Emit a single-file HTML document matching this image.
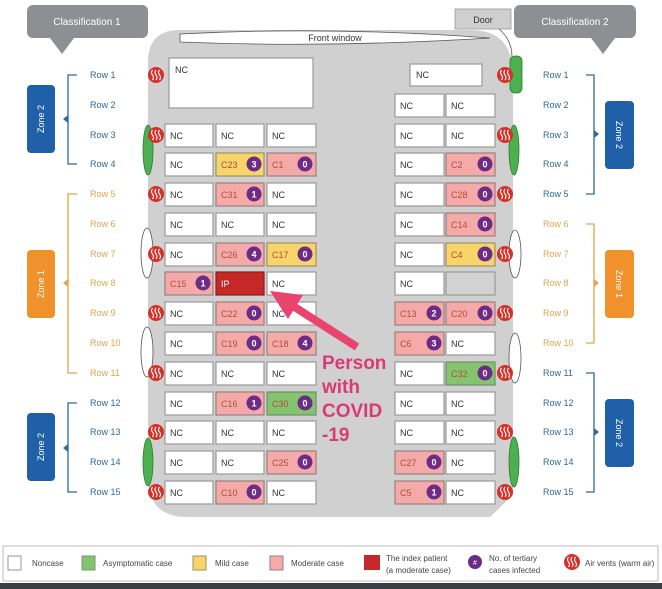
<!DOCTYPE html>
<html><head><meta charset="utf-8"><style>
html,body{margin:0;padding:0;background:#fff;}
svg{display:block;font-family:"Liberation Sans",sans-serif;}
.nc{fill:#fff;stroke:#9a9a9a;stroke-width:1.2}
.mo{fill:#f4aaa8;stroke:#9a8080;stroke-width:1.2}
.mi{fill:#f8d56a;stroke:#a09060;stroke-width:1.2}
.as{fill:#84c46e;stroke:#70906a;stroke-width:1.2}
.t{font-size:9px;fill:#333}
.ct{font-size:9px;fill:#b84a3a}
.b{fill:#6c2b86}
.bn{font-size:9px;fill:#fff;text-anchor:middle;font-weight:bold}
.rb{font-size:9px;fill:#2d6b98}
.ro{font-size:9px;fill:#dfa64c}
.lg{font-size:8px;fill:#444}
</style></head><body>
<svg width="662" height="589" viewBox="0 0 662 589">
<defs>
<g id="v"><circle r="8" fill="#d63027"/><path d="M-3.5,-5 q-2,2.5 0,5 q2,2.5 0,5 M0,-5 q-2,2.5 0,5 q2,2.5 0,5 M3.5,-5 q-2,2.5 0,5 q2,2.5 0,5" stroke="#fff" stroke-width="1.1" fill="none"/></g>
</defs>
<rect x="27" y="5" width="121" height="33" rx="6" fill="#8e8f92"/>
<polygon points="50,38 74,38 62,54" fill="#8e8f92"/>
<text x="87" y="25" font-size="10" fill="#fff" text-anchor="middle">Classification 1</text>
<rect x="514" y="5" width="122" height="33" rx="6" fill="#8e8f92"/>
<polygon points="591,38 615,38 603,54" fill="#8e8f92"/>
<text x="575" y="25" font-size="10" fill="#fff" text-anchor="middle">Classification 2</text>
<path d="M148,478 L148,62 Q148,30 180,30 L470,30 Q513,30 513,75 L513,495 L490,517 L188,517 Q148,517 148,478 Z" fill="#d0d0d1"/>
<path d="M180,34 Q330,26 490,38 Q330,48 180,42 Z" fill="#fff" stroke="#555" stroke-width="0.8"/>
<text x="335" y="41" font-size="9" fill="#333" text-anchor="middle">Front window</text>
<rect x="455" y="9" width="56" height="20" fill="#cfcfd0" stroke="#999" stroke-width="0.8"/>
<text x="483" y="23" font-size="9" fill="#333" text-anchor="middle">Door</text>
<path d="M499,29 Q512,40 512,57" stroke="#555" stroke-width="0.8" fill="none"/>
<rect x="510" y="56" width="12" height="37" rx="5" fill="#4caf50" stroke="#2e7d32" stroke-width="0.8"/>
<ellipse cx="148" cy="150" rx="5" ry="25" fill="#4caf50" stroke="#2e7d32" stroke-width="0.8"/>
<ellipse cx="148" cy="462" rx="5" ry="24" fill="#4caf50" stroke="#2e7d32" stroke-width="0.8"/>
<ellipse cx="514" cy="150" rx="5" ry="25" fill="#4caf50" stroke="#2e7d32" stroke-width="0.8"/>
<ellipse cx="514" cy="462" rx="5" ry="25" fill="#4caf50" stroke="#2e7d32" stroke-width="0.8"/>
<ellipse cx="147" cy="253" rx="6" ry="25" fill="#fff" stroke="#555" stroke-width="0.8"/>
<ellipse cx="147" cy="352" rx="6" ry="25" fill="#fff" stroke="#555" stroke-width="0.8"/>
<ellipse cx="515" cy="254" rx="6" ry="24" fill="#fff" stroke="#555" stroke-width="0.8"/>
<ellipse cx="515" cy="358" rx="6" ry="25" fill="#fff" stroke="#555" stroke-width="0.8"/>

<rect class="nc" x="169" y="58" width="144" height="50"/><text class="t" x="175" y="73">NC</text>
<rect class="nc" x="410" y="64" width="72" height="22"/><text class="t" x="416" y="78">NC</text>
<use href="#v" x="156" y="75"/><use href="#v" x="505" y="75"/>
<g transform="translate(0,105)">
<rect class="nc" x="395" y="-11" width="49" height="23"/><text class="t" x="400" y="4">NC</text>
<rect class="nc" x="446" y="-11" width="49" height="23"/><text class="t" x="451" y="4">NC</text>
</g>
<g transform="translate(0,135)">
<rect class="nc" x="165" y="-11" width="48" height="23"/><text class="t" x="170" y="4">NC</text>
<rect class="nc" x="216" y="-11" width="48" height="23"/><text class="t" x="221" y="4">NC</text>
<rect class="nc" x="267" y="-11" width="49" height="23"/><text class="t" x="272" y="4">NC</text>
<rect class="nc" x="395" y="-11" width="49" height="23"/><text class="t" x="400" y="4">NC</text>
<rect class="nc" x="446" y="-11" width="49" height="23"/><text class="t" x="451" y="4">NC</text>
<use href="#v" x="156" y="0"/><use href="#v" x="505" y="0"/>
</g>
<g transform="translate(0,164)">
<rect class="nc" x="165" y="-11" width="48" height="23"/><text class="t" x="170" y="4">NC</text>
<rect class="mi" x="216" y="-11" width="48" height="23"/><text class="ct" x="221" y="4">C23</text><circle class="b" cx="254" cy="0" r="7.5"/><text class="bn" x="254" y="3.5">3</text>
<rect class="mo" x="267" y="-11" width="49" height="23"/><text class="ct" x="272" y="4">C1</text><circle class="b" cx="305" cy="0" r="7.5"/><text class="bn" x="305" y="3.5">0</text>
<rect class="nc" x="395" y="-11" width="49" height="23"/><text class="t" x="400" y="4">NC</text>
<rect class="mo" x="446" y="-11" width="49" height="23"/><text class="ct" x="451" y="4">C2</text><circle class="b" cx="485" cy="0" r="7.5"/><text class="bn" x="485" y="3.5">0</text>
</g>
<g transform="translate(0,194)">
<rect class="nc" x="165" y="-11" width="48" height="23"/><text class="t" x="170" y="4">NC</text>
<rect class="mo" x="216" y="-11" width="48" height="23"/><text class="ct" x="221" y="4">C31</text><circle class="b" cx="254" cy="0" r="7.5"/><text class="bn" x="254" y="3.5">1</text>
<rect class="nc" x="267" y="-11" width="49" height="23"/><text class="t" x="272" y="4">NC</text>
<rect class="nc" x="395" y="-11" width="49" height="23"/><text class="t" x="400" y="4">NC</text>
<rect class="mo" x="446" y="-11" width="49" height="23"/><text class="ct" x="451" y="4">C28</text><circle class="b" cx="485" cy="0" r="7.5"/><text class="bn" x="485" y="3.5">0</text>
<use href="#v" x="156" y="0"/><use href="#v" x="505" y="0"/>
</g>
<g transform="translate(0,224)">
<rect class="nc" x="165" y="-11" width="48" height="23"/><text class="t" x="170" y="4">NC</text>
<rect class="nc" x="216" y="-11" width="48" height="23"/><text class="t" x="221" y="4">NC</text>
<rect class="nc" x="267" y="-11" width="49" height="23"/><text class="t" x="272" y="4">NC</text>
<rect class="nc" x="395" y="-11" width="49" height="23"/><text class="t" x="400" y="4">NC</text>
<rect class="mo" x="446" y="-11" width="49" height="23"/><text class="ct" x="451" y="4">C14</text><circle class="b" cx="485" cy="0" r="7.5"/><text class="bn" x="485" y="3.5">0</text>
</g>
<g transform="translate(0,254)">
<rect class="nc" x="165" y="-11" width="48" height="23"/><text class="t" x="170" y="4">NC</text>
<rect class="mo" x="216" y="-11" width="48" height="23"/><text class="ct" x="221" y="4">C26</text><circle class="b" cx="254" cy="0" r="7.5"/><text class="bn" x="254" y="3.5">4</text>
<rect class="mi" x="267" y="-11" width="49" height="23"/><text class="ct" x="272" y="4">C17</text><circle class="b" cx="305" cy="0" r="7.5"/><text class="bn" x="305" y="3.5">0</text>
<rect class="nc" x="395" y="-11" width="49" height="23"/><text class="t" x="400" y="4">NC</text>
<rect class="mi" x="446" y="-11" width="49" height="23"/><text class="ct" x="451" y="4">C4</text><circle class="b" cx="485" cy="0" r="7.5"/><text class="bn" x="485" y="3.5">0</text>
<use href="#v" x="156" y="0"/><use href="#v" x="505" y="0"/>
</g>
<g transform="translate(0,283)">
<rect class="mo" x="165" y="-11" width="48" height="23"/><text class="ct" x="170" y="4">C15</text><circle class="b" cx="203" cy="0" r="7.5"/><text class="bn" x="203" y="3.5">1</text>
<rect x="216" y="-11" width="48" height="23" fill="#c62828" stroke="#8a1c1c" stroke-width="1.2"/><text x="221" y="4" font-size="9" fill="#fff">IP</text>
<rect class="nc" x="267" y="-11" width="49" height="23"/><text class="t" x="272" y="4">NC</text>
<rect class="nc" x="395" y="-11" width="49" height="23"/><text class="t" x="400" y="4">NC</text>
<rect x="446" y="-11" width="49" height="23" fill="#d2d2d2" stroke="#999" stroke-width="1.2"/>
</g>
<g transform="translate(0,313)">
<rect class="nc" x="165" y="-11" width="48" height="23"/><text class="t" x="170" y="4">NC</text>
<rect class="mo" x="216" y="-11" width="48" height="23"/><text class="ct" x="221" y="4">C22</text><circle class="b" cx="254" cy="0" r="7.5"/><text class="bn" x="254" y="3.5">0</text>
<rect class="nc" x="267" y="-11" width="49" height="23"/><text class="t" x="272" y="4">NC</text>
<rect class="mo" x="395" y="-11" width="49" height="23"/><text class="ct" x="400" y="4">C13</text><circle class="b" cx="434" cy="0" r="7.5"/><text class="bn" x="434" y="3.5">2</text>
<rect class="mo" x="446" y="-11" width="49" height="23"/><text class="ct" x="451" y="4">C20</text><circle class="b" cx="485" cy="0" r="7.5"/><text class="bn" x="485" y="3.5">0</text>
<use href="#v" x="156" y="0"/><use href="#v" x="505" y="0"/>
</g>
<g transform="translate(0,343)">
<rect class="nc" x="165" y="-11" width="48" height="23"/><text class="t" x="170" y="4">NC</text>
<rect class="mo" x="216" y="-11" width="48" height="23"/><text class="ct" x="221" y="4">C19</text><circle class="b" cx="254" cy="0" r="7.5"/><text class="bn" x="254" y="3.5">0</text>
<rect class="mo" x="267" y="-11" width="49" height="23"/><text class="ct" x="272" y="4">C18</text><circle class="b" cx="305" cy="0" r="7.5"/><text class="bn" x="305" y="3.5">4</text>
<rect class="mo" x="395" y="-11" width="49" height="23"/><text class="ct" x="400" y="4">C6</text><circle class="b" cx="434" cy="0" r="7.5"/><text class="bn" x="434" y="3.5">3</text>
<rect class="nc" x="446" y="-11" width="49" height="23"/><text class="t" x="451" y="4">NC</text>
</g>
<g transform="translate(0,373)">
<rect class="nc" x="165" y="-11" width="48" height="23"/><text class="t" x="170" y="4">NC</text>
<rect class="nc" x="216" y="-11" width="48" height="23"/><text class="t" x="221" y="4">NC</text>
<rect class="nc" x="267" y="-11" width="49" height="23"/><text class="t" x="272" y="4">NC</text>
<rect class="nc" x="395" y="-11" width="49" height="23"/><text class="t" x="400" y="4">NC</text>
<rect class="as" x="446" y="-11" width="49" height="23"/><text class="ct" x="451" y="4">C32</text><circle class="b" cx="485" cy="0" r="7.5"/><text class="bn" x="485" y="3.5">0</text>
<use href="#v" x="156" y="0"/><use href="#v" x="505" y="0"/>
</g>
<g transform="translate(0,403)">
<rect class="nc" x="165" y="-11" width="48" height="23"/><text class="t" x="170" y="4">NC</text>
<rect class="mo" x="216" y="-11" width="48" height="23"/><text class="ct" x="221" y="4">C16</text><circle class="b" cx="254" cy="0" r="7.5"/><text class="bn" x="254" y="3.5">1</text>
<rect class="as" x="267" y="-11" width="49" height="23"/><text class="ct" x="272" y="4">C30</text><circle class="b" cx="305" cy="0" r="7.5"/><text class="bn" x="305" y="3.5">0</text>
<rect class="nc" x="395" y="-11" width="49" height="23"/><text class="t" x="400" y="4">NC</text>
<rect class="nc" x="446" y="-11" width="49" height="23"/><text class="t" x="451" y="4">NC</text>
</g>
<g transform="translate(0,432)">
<rect class="nc" x="165" y="-11" width="48" height="23"/><text class="t" x="170" y="4">NC</text>
<rect class="nc" x="216" y="-11" width="48" height="23"/><text class="t" x="221" y="4">NC</text>
<rect class="nc" x="267" y="-11" width="49" height="23"/><text class="t" x="272" y="4">NC</text>
<rect class="nc" x="395" y="-11" width="49" height="23"/><text class="t" x="400" y="4">NC</text>
<rect class="nc" x="446" y="-11" width="49" height="23"/><text class="t" x="451" y="4">NC</text>
<use href="#v" x="156" y="0"/><use href="#v" x="505" y="0"/>
</g>
<g transform="translate(0,462)">
<rect class="nc" x="165" y="-11" width="48" height="23"/><text class="t" x="170" y="4">NC</text>
<rect class="nc" x="216" y="-11" width="48" height="23"/><text class="t" x="221" y="4">NC</text>
<rect class="mo" x="267" y="-11" width="49" height="23"/><text class="ct" x="272" y="4">C25</text><circle class="b" cx="305" cy="0" r="7.5"/><text class="bn" x="305" y="3.5">0</text>
<rect class="mo" x="395" y="-11" width="49" height="23"/><text class="ct" x="400" y="4">C27</text><circle class="b" cx="434" cy="0" r="7.5"/><text class="bn" x="434" y="3.5">0</text>
<rect class="nc" x="446" y="-11" width="49" height="23"/><text class="t" x="451" y="4">NC</text>
</g>
<g transform="translate(0,492)">
<rect class="nc" x="165" y="-11" width="48" height="23"/><text class="t" x="170" y="4">NC</text>
<rect class="mo" x="216" y="-11" width="48" height="23"/><text class="ct" x="221" y="4">C10</text><circle class="b" cx="254" cy="0" r="7.5"/><text class="bn" x="254" y="3.5">0</text>
<rect class="nc" x="267" y="-11" width="49" height="23"/><text class="t" x="272" y="4">NC</text>
<rect class="mo" x="395" y="-11" width="49" height="23"/><text class="ct" x="400" y="4">C5</text><circle class="b" cx="434" cy="0" r="7.5"/><text class="bn" x="434" y="3.5">1</text>
<rect class="nc" x="446" y="-11" width="49" height="23"/><text class="t" x="451" y="4">NC</text>
<use href="#v" x="156" y="0"/><use href="#v" x="505" y="0"/>
</g>

<text class="rb" x="90" y="78">Row 1</text><text class="rb" x="90" y="108">Row 2</text><text class="rb" x="90" y="138">Row 3</text><text class="rb" x="90" y="167">Row 4</text>
<text class="rb" x="90" y="406">Row 12</text><text class="rb" x="90" y="435">Row 13</text><text class="rb" x="90" y="465">Row 14</text><text class="rb" x="90" y="495">Row 15</text>
<text class="ro" x="90" y="197">Row 5</text><text class="ro" x="90" y="227">Row 6</text><text class="ro" x="90" y="257">Row 7</text><text class="ro" x="90" y="286">Row 8</text><text class="ro" x="90" y="316">Row 9</text><text class="ro" x="90" y="346">Row 10</text><text class="ro" x="90" y="376">Row 11</text>
<text class="rb" x="543" y="78">Row 1</text><text class="rb" x="543" y="108">Row 2</text><text class="rb" x="543" y="138">Row 3</text><text class="rb" x="543" y="167">Row 4</text><text class="rb" x="543" y="197">Row 5</text>
<text class="ro" x="543" y="227">Row 6</text><text class="ro" x="543" y="257">Row 7</text><text class="ro" x="543" y="286">Row 8</text><text class="ro" x="543" y="316">Row 9</text><text class="ro" x="543" y="346">Row 10</text>
<text class="rb" x="543" y="376">Row 11</text><text class="rb" x="543" y="406">Row 12</text><text class="rb" x="543" y="435">Row 13</text><text class="rb" x="543" y="465">Row 14</text><text class="rb" x="543" y="495">Row 15</text>

<g fill="none" stroke-width="1.3">
<path d="M77,75 H68 V164 H77" stroke="#2d6b98"/>
<path d="M77,194 H68 V373 H77" stroke="#dfa64c"/>
<path d="M77,403 H68 V492 H77" stroke="#2d6b98"/>
<path d="M586,75 H594 V194 H586" stroke="#2d6b98"/>
<path d="M586,224 H594 V343 H586" stroke="#dfa64c"/>
<path d="M586,373 H594 V492 H586" stroke="#2d6b98"/>
</g>
<polygon points="63,119 68,115 68,123" fill="#2d6b98"/>
<polygon points="63,283 68,279 68,287" fill="#dfa64c"/>
<polygon points="63,448 68,444 68,452" fill="#2d6b98"/>
<polygon points="599,134 594,130 594,138" fill="#2d6b98"/>
<polygon points="599,283 594,279 594,287" fill="#dfa64c"/>
<polygon points="599,432 594,428 594,436" fill="#2d6b98"/>
<rect x="27" y="85" width="28" height="68" rx="4" fill="#1f60a8"/>
<text transform="translate(44,119) rotate(-90)" font-size="9" fill="#fff" text-anchor="middle">Zone 2</text>
<rect x="27" y="250" width="28" height="68" rx="4" fill="#f0912b"/>
<text transform="translate(44,284) rotate(-90)" font-size="9" fill="#fff" text-anchor="middle">Zone 1</text>
<rect x="27" y="413" width="28" height="68" rx="4" fill="#1f60a8"/>
<text transform="translate(44,447) rotate(-90)" font-size="9" fill="#fff" text-anchor="middle">Zone 2</text>
<rect x="605" y="101" width="29" height="68" rx="4" fill="#1f60a8"/>
<text transform="translate(616,135) rotate(90)" font-size="9" fill="#fff" text-anchor="middle">Zone 2</text>
<rect x="605" y="250" width="29" height="68" rx="4" fill="#f0912b"/>
<text transform="translate(616,284) rotate(90)" font-size="9" fill="#fff" text-anchor="middle">Zone 1</text>
<rect x="605" y="399" width="29" height="68" rx="4" fill="#1f60a8"/>
<text transform="translate(616,433) rotate(90)" font-size="9" fill="#fff" text-anchor="middle">Zone 2</text>

<line x1="357" y1="347" x2="293" y2="306" stroke="#e8446f" stroke-width="8"/>
<polygon points="270,291 303,295 288,319" fill="#e8446f"/>
<g font-size="19" font-weight="bold" fill="#d93a72">
<text x="322" y="369">Person</text>
<text x="322" y="393">with</text>
<text x="322" y="417">COVID</text>
<text x="322" y="441">-19</text>
</g>

<rect x="3" y="546" width="655" height="35" fill="#fff" stroke="#bbb" stroke-width="1"/>
<rect x="8" y="556" width="13" height="14" fill="#fff" stroke="#999"/><text class="lg" x="32" y="566">Noncase</text>
<rect x="82" y="556" width="13" height="14" fill="#84c46e" stroke="#7a9a6a"/><text class="lg" x="103" y="566">Asymptomatic case</text>
<rect x="193" y="556" width="13" height="14" fill="#f8d56a" stroke="#a09060"/><text class="lg" x="215" y="566">Mild case</text>
<rect x="270" y="556" width="13" height="14" fill="#f4aaa8" stroke="#9a8080"/><text class="lg" x="291" y="566">Moderate case</text>
<rect x="364" y="555" width="16" height="15" fill="#c62828"/><text class="lg" x="386" y="561">The index patient</text><text class="lg" x="386" y="573">(a moderate case)</text>
<circle cx="475" cy="562" r="7" fill="#6c2b86"/><text x="475" y="565" font-size="7" fill="#fff" text-anchor="middle">#</text>
<text class="lg" x="489" y="561">No. of tertiary</text><text class="lg" x="489" y="573">cases infected</text>
<use href="#v" x="572" y="562"/><text class="lg" x="585" y="566">Air vents (warm air)</text>
<rect x="0" y="583" width="662" height="6" fill="#3a3e45"/>
</svg>
</body></html>
